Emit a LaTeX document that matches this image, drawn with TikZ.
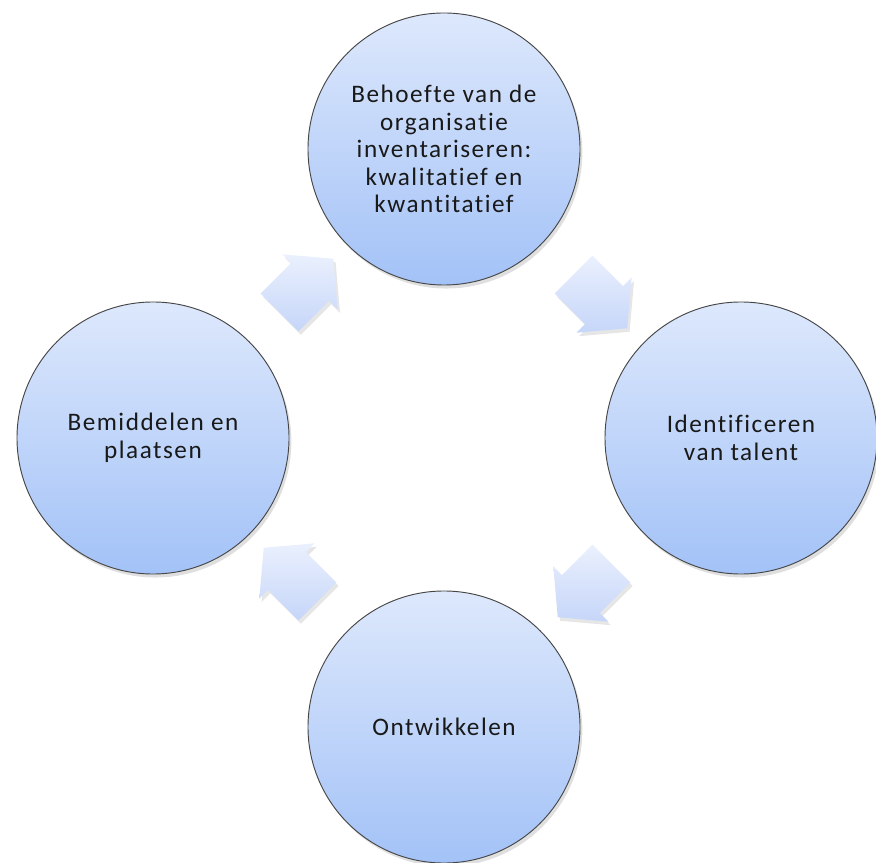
\documentclass[tikz,border=0pt]{standalone}
\usepackage{fontspec}
\setmainfont{Carlito}[LetterSpace=6,Ligatures=NoCommon]
\usepackage{tikz}
\usetikzlibrary{shapes.arrows,shadows,calc}
\definecolor{circtop}{RGB}{221,232,252}
\definecolor{circbot}{RGB}{163,194,247}
\definecolor{arrtop}{RGB}{234,240,253}
\definecolor{arrbot}{RGB}{198,214,249}
\definecolor{rimgray}{RGB}{70,70,70}
\definecolor{inkgray}{RGB}{25,25,25}

\begin{document}
\begin{tikzpicture}[x=0.03cm,y=0.03cm,
  every node/.style={font=\fontsize{21.5}{23.5}\selectfont,text=inkgray},
  stage/.style={circle,draw=rimgray,line width=0.8pt,minimum size=8.16cm,inner sep=0pt,align=center,
    top color=circtop,bottom color=circbot,
    drop shadow={opacity=0.25,shadow xshift=2pt,shadow yshift=-3pt}},
  cyclearrow/.style={single arrow,draw=none,inner sep=0pt,inner ysep=0.56cm,minimum height=1.52cm,
    single arrow head extend=0.37cm,single arrow tip angle=100,shape border uses incircle,
    top color=arrtop,bottom color=arrbot,
    drop shadow={opacity=0.2,shadow xshift=2pt,shadow yshift=-3pt}}]
\useasboundingbox (0,0) rectangle (876,862);
\node[stage] (behoefte) at (444,713) {Behoefte van de\\organisatie\\inventariseren:\\kwalitatief en\\kwantitatief};
\node[stage] (talent) at (741,424) {Identificeren\\van talent};
\node[stage] (ontwikkelen) at (444,135) {Ontwikkelen};
\node[stage] (plaatsen) at (153,424) {Bemiddelen en\\plaatsen};
\node[cyclearrow,shape border rotate=-45] (pijl1) at ($(behoefte)!0.5!(talent)$) {};
\node[cyclearrow,shape border rotate=-135] (pijl2) at ($(talent)!0.5!(ontwikkelen)$) {};
\node[cyclearrow,shape border rotate=135] (pijl3) at ($(ontwikkelen)!0.5!(plaatsen)$) {};
\node[cyclearrow,shape border rotate=45] (pijl4) at ($(plaatsen)!0.5!(behoefte)$) {};
\end{tikzpicture}
\end{document}
